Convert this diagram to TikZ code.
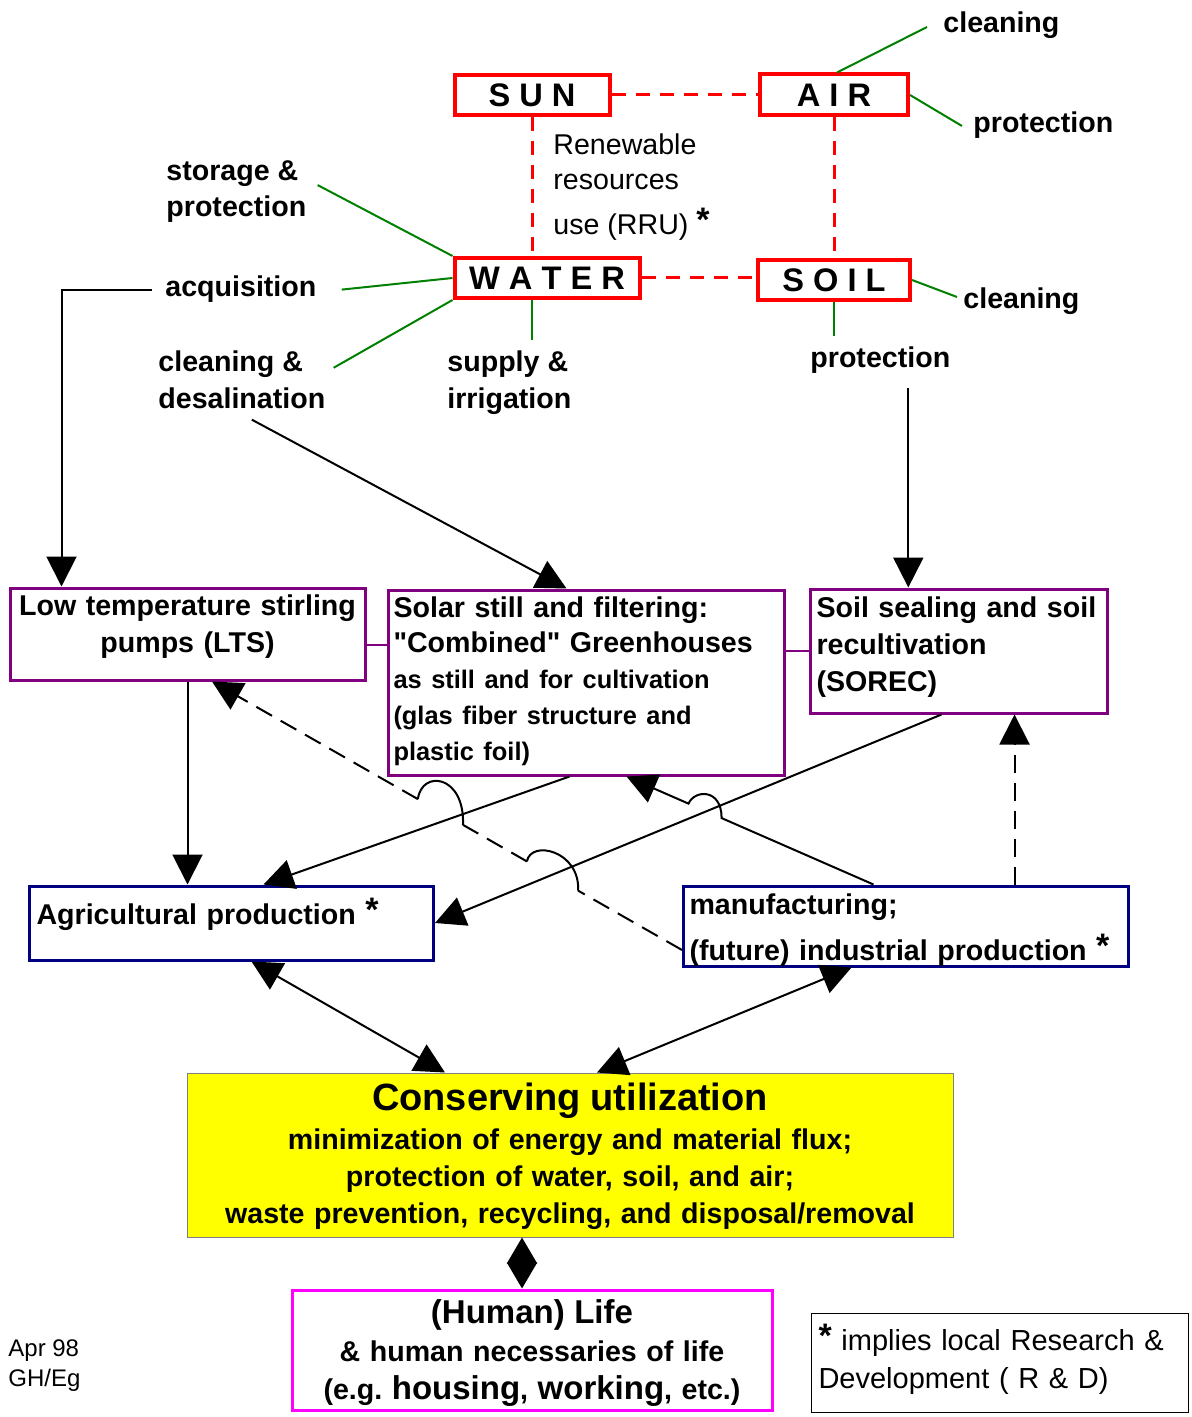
\documentclass[tikz,border=0pt]{standalone}
\usepackage{fontspec}
\setmainfont{Liberation Sans}
\usepackage{tikz}
\usetikzlibrary{arrows.meta, positioning, calc}

\definecolor{rrRed}{HTML}{FF0000}
\definecolor{rrGreen}{HTML}{008000}
\definecolor{rrPurple}{HTML}{800080}
\definecolor{rrNavy}{HTML}{000080}
\definecolor{rrPink}{HTML}{FF00FF}
\definecolor{rrYellow}{HTML}{FFFF00}

\newcommand{\rrstar}{\raisebox{1.5pt}{\bfseries\fontsize{17}{17}\selectfont *}}
\newcommand{\rrbig}{\fontsize{16.5}{19}\selectfont}
\newcommand{\rrsmall}{\fontsize{12.7}{17.9}\selectfont}

\tikzset{
  rr-elem/.style={
    rectangle, draw=rrRed, line width=2pt, inner sep=0pt,
    font=\bfseries\fontsize{16.3}{19}\selectfont
  },
  rr-tag/.style={
    inner sep=0pt, align=left,
    font=\bfseries\fontsize{14.3}{18}\selectfont
  },
  rr-proc/.style={
    rectangle, draw=rrPurple, line width=1.5pt, inner ysep=0pt,
    font=\bfseries\fontsize{14.3}{18.5}\selectfont
  },
  rr-prod/.style={
    rectangle, draw=rrNavy, line width=1.5pt, inner ysep=0pt, align=left,
    font=\bfseries\fontsize{14.3}{18.5}\selectfont
  },
  rr-goal/.style={
    rectangle, draw=black!50, fill=rrYellow, line width=0.5pt, inner sep=0pt,
    align=center, font=\bfseries\fontsize{14.3}{18.5}\selectfont
  },
  rr-life/.style={
    rectangle, draw=rrPink, line width=1.5pt, inner sep=0pt,
    align=center, font=\bfseries\fontsize{14.3}{19}\selectfont
  },
  rr-note/.style={
    rectangle, draw=black, line width=0.5pt, inner ysep=0pt,
    align=left, font=\fontsize{14.5}{19}\selectfont
  },
  rr-twig/.style={draw=rrGreen, line width=1pt},
  rr-res/.style={draw=rrRed, line width=1.5pt, dash pattern=on 7pt off 5pt},
  rr-link/.style={draw=rrPurple, line width=1pt},
  rr-flow/.style={-{Triangle[length=15pt,width=15pt]}, line width=1pt},
  rr-dash/.style={line width=1pt, dash pattern=on 9pt off 5pt},
  rr-flow-dashed/.style={rr-flow, dash pattern=on 9pt off 5pt},
  rr-both/.style={{Triangle[length=15pt,width=15pt]}-{Triangle[length=15pt,width=15pt]},
    line width=1pt},
  rr-diam/.style={{Triangle[length=13pt,width=15pt]}-{Triangle[length=13pt,width=15pt]},
    line width=1pt},
}

\begin{document}
\begin{tikzpicture}[x=0.5pt, y=-0.5pt]
  \useasboundingbox (0,0) rectangle (1192,1417);

  % renewable resources
  \node[rr-elem, minimum width=77.5pt, minimum height=20pt]   (sun)   at (532,95)  {S U N};
  \node[rr-elem, minimum width=74pt, minimum height=20.5pt]   (air)   at (834,95)  {A I R};
  \node[rr-elem, minimum width=92.5pt, minimum height=20pt]   (water) at (547,278) {W A T E R};
  \node[rr-elem, minimum width=76pt, minimum height=20pt]     (soil)  at (834,280) {S O I L};
  % (multi-line tags sit on their last line)
  \node[rr-tag, anchor=base west, font=\fontsize{14.3}{17.5}\selectfont]
        (rru) at (553,235) {Renewable\\resources\\[5pt]use (RRU) \rrstar};

  \draw[rr-res] (sun.east) -- (air.west);
  \draw[rr-res] (sun.south) -- (sun.south |- water.north);
  \draw[rr-res] (air) -- (soil);
  \draw[rr-res] (water.east) -- (water.east -| soil.west);

  % tasks
  \node[rr-tag, anchor=base west] (airClean)  at (943,33)  {cleaning};
  \node[rr-tag, anchor=base west] (airProt)   at (973,133) {protection};
  \node[rr-tag, anchor=base west] (soilClean) at (963,308) {cleaning};
  \node[rr-tag, anchor=base west] (soilProt)  at (810,367) {protection};
  \node[rr-tag, anchor=base west] (wStore)    at (166,217) {storage \&\\protection};
  \node[rr-tag, anchor=base west] (wAcq)      at (165,297) {acquisition};
  \node[rr-tag, anchor=base west] (wClean)    at (158,408) {cleaning \&\\desalination};
  \node[rr-tag, anchor=base west] (wSupply)   at (447,408) {supply \&\\irrigation};

  \draw[rr-twig] ([xshift=1.5pt]air.north) -- ([shift={(-16,-6)}]airClean.base west);
  \draw[rr-twig] (air.east) -- ([shift={(-11,-7)}]airProt.base west);
  \draw[rr-twig] (soil.east) -- ([shift={(-6,-11)}]soilClean.base west);
  \draw[rr-twig, shorten >=5pt] (soil.south) -- (soil.south |- soilProt.north);
  \draw[rr-twig] (water.north west) -- ([shift={(11,-7)}]wStore.east);
  \draw[rr-twig] (water.west) -- ([xshift=12.5pt]wAcq.east);
  \draw[rr-twig] (water.south west) -- ([shift={(8,-12)}]wClean.east);
  \draw[rr-twig, shorten >=5.5pt] (sun.south |- water.south) -- (sun.south |- wSupply.north);

  % projects
  \node[rr-proc, text width=177.5pt, align=center, inner xsep=0pt,
        text height=13.5pt, text depth=32.5pt, anchor=base] (lts) at (187.5,615)
        {Low temperature stirling\\pumps (LTS)};
  \node[rr-proc, text width=193pt, align=left, inner xsep=2.5pt,
        text height=13.5pt, text depth=79pt, anchor=base west,
        font=\bfseries\fontsize{14.3}{17.9}\selectfont] (solar) at (387,617)
        {Solar still and filtering:\\\textquotedbl Combined\textquotedbl{} Greenhouses\\\rrsmall as still and for cultivation\\(glas fiber structure and\\plastic foil)};
  \node[rr-proc, text width=142.5pt, align=left, inner xsep=3pt,
        text height=14pt, text depth=48pt, anchor=base west] (sorec) at (809,617)
        {Soil sealing and soil\\recultivation\\(SOREC)};

  \draw[rr-link] (lts.east) ++(0,11) coordinate (ltsLink) -- (ltsLink -| solar.west);
  \draw[rr-link] (solar.east |- sorec.west) -- (sorec.west);

  % production
  \node[rr-prod, text width=195pt, inner xsep=3.5pt, text height=19pt, text depth=18pt,
        anchor=base west] (agri) at (28,924) {Agricultural production \rrstar};
  \node[rr-prod, text width=216.5pt, inner xsep=3pt, text height=14pt, text depth=26pt,
        anchor=base west] (mfg) at (682,914)
        {manufacturing;\\[4.5pt](future) industrial production \rrstar};

  \node[rr-goal, text width=383pt, text height=18.5pt, text depth=63.5pt, anchor=base]
        (cons) at (570,1110)
        {{\fontsize{19}{22}\selectfont Conserving utilization}\\[1pt]
         minimization of energy and material flux;\\
         protection of water, soil, and air;\\
         waste prevention, recycling, and disposal/removal};
  \node[rr-life, text width=240pt, text height=16.5pt, text depth=43.5pt, anchor=base]
        (life) at (532,1323)
        {{\rrbig (Human) Life}\\\& human necessaries of life\\(e.g.\ {\rrbig housing}, {\rrbig working}, etc.)};
  \node[rr-note, text width=181.5pt, inner xsep=3.5pt, text height=18.5pt, text depth=31pt,
        anchor=base west] (note) at (811,1350)
        {\rrstar{} implies local Research \&\\Development ( R \& D)};
  \node[inner sep=0pt, align=left, anchor=base west, font=\fontsize{12}{15}\selectfont]
        (date) at (8,1386) {Apr 98\\GH/Eg};

  % flows
  \draw[rr-flow] ([xshift=-6.5pt]wAcq.west) -| ([xshift=26.5pt]lts.north west);
  \draw[rr-flow] ([shift={(10,11)}]wClean.south) -- ([xshift=-10pt]solar.north);
  \coordinate (soilDrop) at ([shift={(28,15)}]soilProt.south);
  \draw[rr-flow] (soilDrop) -- (soilDrop |- sorec.north);

  \draw[rr-flow] (lts.south) -- (lts.south |- agri.north);
  \draw[rr-flow] ([xshift=-8.5pt]solar.south) -- ([xshift=16pt]agri.north);
  \draw[rr-flow] ([xshift=-8.75pt]sorec.south) -- (agri.east);

  \coordinate (mA) at ([xshift=-16.25pt]mfg.north);
  \coordinate (mB) at ([xshift=20pt]solar.south);
  \path (mA) -- (mB) coordinate[pos=0.615] (h5) coordinate[pos=0.749] (h6);
  \draw[rr-flow] (mA) -- (h5) .. controls +(0,-30) and +(6,-14) .. (h6) -- (mB);

  \coordinate (mUp) at ([xshift=54.25pt]mfg.north);
  \draw[rr-flow-dashed] (mUp) -- (mUp |- sorec.south);

  \coordinate (dA) at ([yshift=-12pt]mfg.west);
  \coordinate (dB) at ([xshift=12.25pt]lts.south);
  \path (dA) -- (dB) coordinate[pos=0.221] (h1) coordinate[pos=0.330] (h2)
                     coordinate[pos=0.466] (h3) coordinate[pos=0.562] (h4);
  \draw[rr-dash] (dA) -- (h1);
  \draw[line width=1pt] (h1) .. controls +(2,-40) and +(4,-22) .. (h2);
  \draw[rr-dash] (h2) -- (h3);
  \draw[line width=1pt] (h3) .. controls +(2,-50) and +(4,-30) .. (h4);
  \draw[rr-flow-dashed] (h4) -- (dB);

  \draw[rr-both] ([xshift=10pt]agri.south) -- ([xshift=-62.5pt]cons.north);
  \draw[rr-both] ([xshift=-27.25pt]mfg.south) -- ([xshift=13.5pt]cons.north);
  \coordinate (lifeTop) at ([xshift=-5pt]life.north);
  \draw[rr-diam] (lifeTop |- cons.south) -- (lifeTop);
\end{tikzpicture}
\end{document}
